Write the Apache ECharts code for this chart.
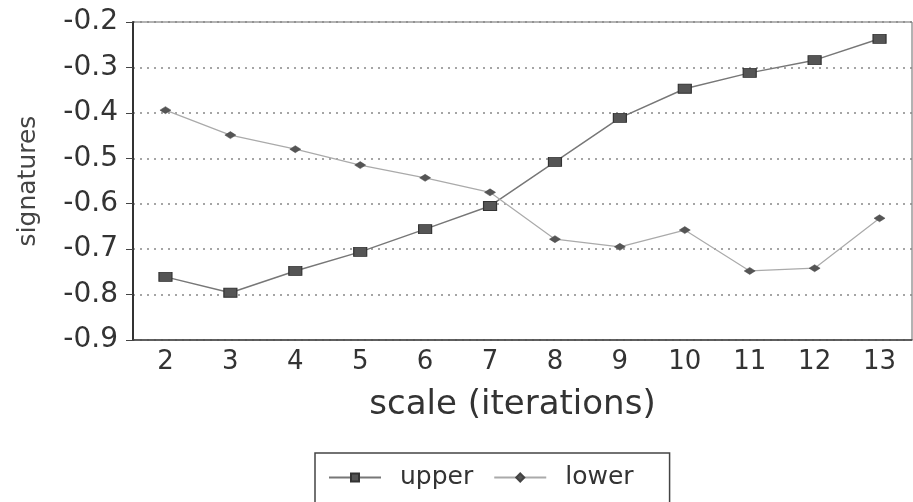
<!DOCTYPE html>
<html><head><meta charset="utf-8">
<script src="https://cdn.jsdelivr.net/npm/echarts@6/dist/echarts.min.js"></script>
<style>html,body{margin:0;padding:0;background:#fff}#c{width:913px;height:502px}</style>
</head><body><div id="c"></div>
<script>
var categories = ['2','3','4','5','6','7','8','9','10','11','12','13'];
var upper = [-0.761,-0.796,-0.748,-0.706,-0.656,-0.605,-0.508,-0.411,-0.347,-0.312,-0.284,-0.237];
var lower = [-0.394,-0.449,-0.480,-0.515,-0.543,-0.575,-0.678,-0.695,-0.658,-0.748,-0.742,-0.632];
var yTicks = ['-0.9','-0.8','-0.7','-0.6','-0.5','-0.4','-0.3','-0.2'];

var F = '"DejaVu Sans", "Liberation Sans", Arial, sans-serif';
var chart = echarts.init(document.getElementById('c'), null, {renderer:'canvas'});
chart.setOption({
  animation:false,
  backgroundColor:'#fff',
  textStyle:{fontFamily:F},
  grid:{left:133, right:1, top:22, bottom:162, show:true, borderColor:'#666', borderWidth:1,
        backgroundColor:'transparent', outerBoundsMode:'none', containLabel:false},
  legend:{
    left:315, top:453,
    orient:'horizontal',
    borderColor:'#444', borderWidth:1.5, borderRadius:0,
    padding:[12,36,22,13],
    itemWidth:52, itemHeight:10, itemGap:20,
    textStyle:{fontFamily:F, fontSize:25, color:'#333', padding:[0,0,0,14]},
    data:['upper','lower']
  },
  xAxis:{
    type:'category', data:categories, boundaryGap:true,
    name:'scale (iterations)', nameLocation:'middle', nameGap:48,
    nameTextStyle:{fontFamily:F, fontSize:34, color:'#333', padding:[0,20,0,0]},
    axisLine:{lineStyle:{color:'#444', width:1.5}},
    axisTick:{alignWithLabel:true, length:7, lineStyle:{color:'#444'}},
    axisLabel:{fontFamily:F, fontSize:26, color:'#333', margin:9},
    splitLine:{show:false}
  },
  yAxis:{
    type:'value', min:-0.9, max:-0.2, interval:0.1,
    name:'signatures', nameLocation:'middle', nameGap:92, nameRotate:90,
    nameTextStyle:{fontFamily:F, fontSize:25, color:'#444'},
    axisLine:{show:true, lineStyle:{color:'#333', width:2}},
    axisTick:{show:true, length:7, lineStyle:{color:'#444'}},
    axisLabel:{fontFamily:F, fontSize:28, color:'#333', margin:15,
      formatter:function(v){ var i=Math.round((v+0.9)*10); return yTicks[i]; }},
    splitLine:{show:true, lineStyle:{color:'#888', type:[2,5], width:1.5}}
  },
  series:[
    {name:'upper', type:'line', data:upper, symbol:'rect', symbolSize:[13,9],
     lineStyle:{color:'#777', width:1.5}, itemStyle:{color:'#555', borderColor:'#333', borderWidth:1}},
    {name:'lower', type:'line', data:lower, symbol:'diamond', symbolSize:[11,7],
     lineStyle:{color:'#aaa', width:1.2}, itemStyle:{color:'#555', borderColor:'#444', borderWidth:0.5}}
  ]
});
</script></body></html>
